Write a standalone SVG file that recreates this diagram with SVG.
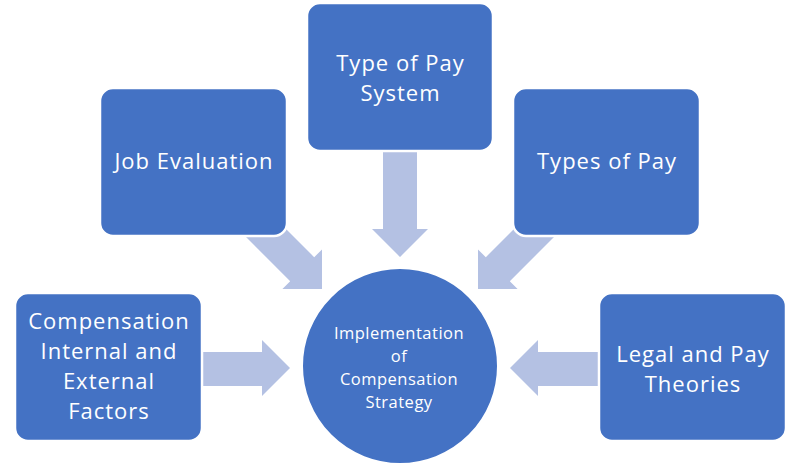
<svg xmlns="http://www.w3.org/2000/svg" width="800" height="468" viewBox="0 0 800 468">
<style>
.box{fill:#4472C4;stroke:#FFFFFF;stroke-width:2.5}
.arr{fill:#B4C1E3}
.t{font-family:"Open Sans","Noto Sans","Liberation Sans",sans-serif;font-size:22px;letter-spacing:1px;fill:#FFFFFF;text-anchor:middle}
.c{font-family:"Open Sans","Noto Sans","Liberation Sans",sans-serif;font-size:16.5px;letter-spacing:0.5px;fill:#FFFFFF;text-anchor:middle}
</style>
<rect width="800" height="468" fill="#FFFFFF"/>
<g id="connectors">
<polygon class="arr" points="383,150 417,150 417,229 428,229 400,257 372,229 383,229"/>
<polygon class="arr" points="200,352 262,352 262,340 290,368 262,396 262,386 200,386"/>
<polygon class="arr" points="600,352 538,352 538,340 510,368 538,396 538,386 600,386"/>
<polygon class="arr" points="260,203 314.2,257.2 322,249.4 322,289 282.4,289 290.2,281.2 236,227"/>
<polygon class="arr" points="540,203 485.8,257.2 478,249.4 478,289 517.6,289 509.8,281.2 564,227"/>
</g>
<g id="node-job-evaluation">
<rect class="box" x="100" y="88" width="187" height="148" rx="13"/>
<text class="t" x="194" y="169">Job Evaluation</text>
</g>
<g id="node-type-of-pay-system">
<rect class="box" x="307" y="3" width="186" height="148" rx="13"/>
<text class="t" x="400.5" y="71">Type of Pay</text>
<text class="t" x="400.5" y="101">System</text>
</g>
<g id="node-types-of-pay">
<rect class="box" x="513" y="88" width="187" height="148" rx="13"/>
<text class="t" x="607" y="169">Types of Pay</text>
</g>
<g id="node-compensation-factors">
<rect class="box" x="15" y="293" width="187" height="148" rx="13"/>
<text class="t" x="109" y="329">Compensation</text>
<text class="t" x="109" y="359">Internal and</text>
<text class="t" x="109" y="389">External</text>
<text class="t" x="109" y="419">Factors</text>
</g>
<g id="node-legal-pay-theories">
<rect class="box" x="599" y="293" width="187" height="148" rx="13"/>
<text class="t" x="693" y="362">Legal and Pay</text>
<text class="t" x="693" y="392">Theories</text>
</g>
<g id="node-implementation">
<circle cx="400" cy="366" r="98" fill="#4472C4" stroke="#FFFFFF" stroke-width="2"/>
<text class="c" x="399" y="339">Implementation</text>
<text class="c" x="399" y="362">of</text>
<text class="c" x="399" y="385">Compensation</text>
<text class="c" x="399" y="408">Strategy</text>
</g>
</svg>
